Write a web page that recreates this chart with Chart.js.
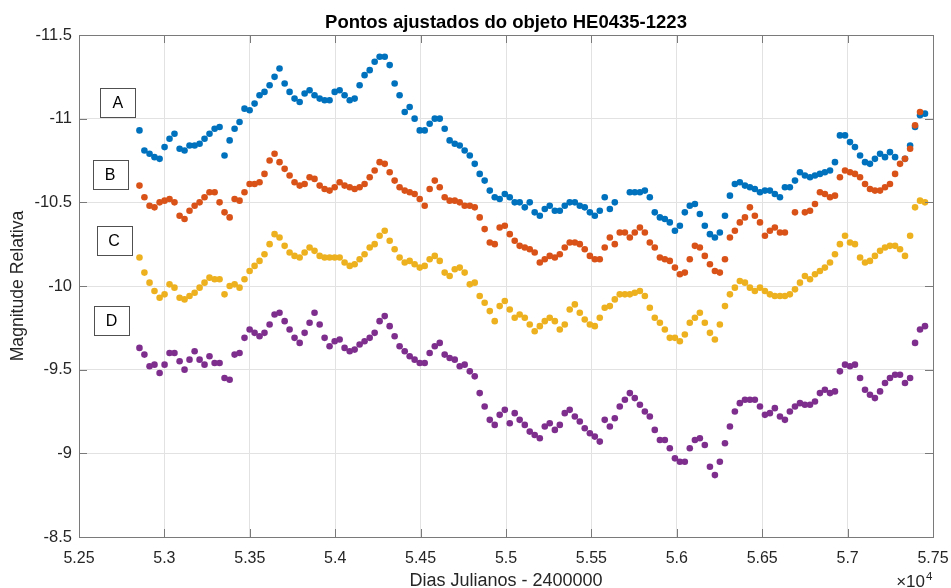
<!DOCTYPE html>
<html>
<head>
<meta charset="utf-8">
<script src="https://cdn.jsdelivr.net/npm/chart.js@4.4.1/dist/chart.umd.min.js"></script>
<style>
  html, body { margin: 0; padding: 0; background: #ffffff; }
  #caixa { width: 951px; height: 588px; }
</style>
</head>
<body>
<div id="caixa"><canvas id="grafico" width="951" height="588"></canvas></div>
<script>
// Dias julianos (JD - 2400000) das observações
const dias = [
  52854, 52883, 52913, 52942, 52972, 53001, 53030, 53059, 53089, 53118,
  53147, 53177, 53206, 53235, 53264, 53294, 53323, 53352, 53382, 53411,
  53440, 53469, 53499, 53528, 53557, 53586, 53616, 53645, 53674, 53704,
  53733, 53762, 53792, 53821, 53850, 53879, 53909, 53938, 53967, 53997,
  54026, 54055, 54085, 54114, 54143, 54172, 54202, 54231, 54260, 54290,
  54319, 54348, 54377, 54407, 54436, 54465, 54495, 54524, 54553, 54583,
  54612, 54641, 54670, 54700, 54729, 54758, 54788, 54817, 54846, 54875,
  54905, 54934, 54963, 54993, 55022, 55051, 55080, 55110, 55139, 55168,
  55198, 55227, 55256, 55286, 55315, 55344, 55373, 55403, 55432, 55461,
  55491, 55520, 55549, 55578, 55608, 55637, 55666, 55696, 55725, 55754,
  55784, 55813, 55842, 55871, 55901, 55930, 55959, 55989, 56018, 56047,
  56076, 56106, 56135, 56164, 56194, 56223, 56252, 56282, 56311, 56340,
  56369, 56399, 56428, 56457, 56487, 56516, 56545, 56574, 56604, 56633,
  56662, 56692, 56721, 56750, 56780, 56809, 56838, 56867, 56897, 56926,
  56955, 56985, 57014, 57043, 57073, 57102, 57131, 57160, 57190, 57219,
  57248, 57278, 57307, 57336, 57366, 57395, 57424, 57453
];

// Magnitudes relativas de cada imagem (null = sem observação)
const magA = [
  -10.93, -10.81, -10.79, -10.77, -10.76, -10.83, -10.88, -10.91, -10.82, -10.81,
  -10.84, -10.84, -10.85, -10.88, -10.91, -10.94, -10.95, -10.78, -10.87, -10.94,
  -10.98, -11.06, -11.05, -11.09, -11.14, -11.16, -11.20, -11.25, -11.30, -11.21,
  -11.16, -11.12, -11.10, -11.15, -11.17, -11.14, -11.12, -11.11, -11.11, -11.16,
  -11.17, -11.14, -11.11, -11.12, -11.20, -11.26, -11.29, -11.34, -11.37, -11.37,
  -11.32, -11.21, -11.14, -11.04, -11.07, -11.00, -10.93, -10.93, -10.97, -11.00,
  -11.00, -10.94, -10.87, -10.85, -10.84, -10.81, -10.78, -10.73, -10.67, -10.63,
  -10.57, -10.53, -10.52, -10.55, -10.53, -10.50, -10.50, -10.47, -10.50, -10.44,
  -10.42, -10.46, -10.48, -10.45, -10.45, -10.48, -10.50, -10.50, -10.48, -10.47,
  -10.44, -10.42, -10.45, -10.53, -10.46, -10.50, null, null, -10.56, -10.56,
  -10.56, -10.57, -10.53, -10.44, -10.41, -10.40, -10.38, -10.33, -10.36, -10.44,
  -10.48, -10.49, -10.43, -10.36, -10.31, -10.29, -10.32, -10.42, -10.54, -10.61,
  -10.62, -10.60, -10.59, -10.58, -10.56, -10.57, -10.57, -10.55, -10.53, -10.59,
  -10.59, -10.63, -10.68, -10.66, -10.65, -10.66, -10.67, -10.68, -10.69, -10.74,
  -10.90, -10.90, -10.86, -10.83, -10.78, -10.74, -10.73, -10.76, -10.79, -10.77,
  -10.80, -10.77, null, -10.76, -10.84, -10.95, -11.02, -11.03
];
const magB = [
  -10.60, -10.53, -10.48, -10.47, -10.50, -10.51, -10.52, -10.50, -10.42, -10.40,
  -10.45, -10.48, -10.50, -10.53, -10.56, -10.56, -10.50, -10.44, -10.41, -10.52,
  -10.51, -10.56, -10.61, -10.61, -10.62, -10.67, -10.75, -10.79, -10.74, -10.70,
  -10.66, -10.62, -10.60, -10.61, -10.65, -10.64, -10.60, -10.58, -10.57, -10.59,
  -10.62, -10.60, -10.59, -10.58, -10.59, -10.61, -10.65, -10.69, -10.74, -10.73,
  -10.68, -10.63, -10.59, -10.57, -10.56, -10.55, -10.52, -10.48, -10.58, -10.63,
  -10.59, -10.53, -10.51, -10.51, -10.50, -10.48, -10.48, -10.47, -10.41, -10.34,
  -10.26, -10.25, -10.35, -10.36, -10.31, -10.27, -10.24, -10.23, -10.22, -10.20,
  -10.14, -10.16, -10.18, -10.17, -10.19, -10.23, -10.26, -10.26, -10.25, -10.22,
  -10.18, -10.16, -10.16, -10.23, -10.29, -10.25, -10.32, -10.32, -10.29, -10.32,
  -10.35, -10.32, -10.26, -10.23, -10.17, -10.16, -10.15, -10.11, -10.07, -10.08,
  -10.16, -10.24, -10.23, -10.18, -10.13, -10.09, -10.08, -10.16, -10.29, -10.33,
  -10.38, -10.41, -10.47, -10.42, -10.38, -10.30, -10.33, -10.35, -10.32, -10.32,
  null, -10.44, null, -10.44, -10.45, -10.49, -10.56, -10.55, -10.53, -10.54,
  -10.65, -10.69, -10.68, -10.67, -10.65, -10.61, -10.58, -10.57, -10.57, -10.59,
  -10.61, -10.67, -10.73, -10.76, -10.82, -10.96, -11.04, null
];
const magC = [
  -10.17, -10.08, -10.02, -9.97, -9.93, -9.95, -10.01, -9.99, -9.93, -9.92,
  -9.94, -9.96, -9.99, -10.02, -10.05, -10.04, -10.04, -9.95, -10.00, -10.01,
  -9.99, -10.04, -10.09, -10.12, -10.15, -10.19, -10.25, -10.31, -10.29, -10.24,
  -10.20, -10.18, -10.17, -10.20, -10.23, -10.21, -10.18, -10.17, -10.17, -10.17,
  -10.17, -10.14, -10.12, -10.13, -10.16, -10.19, -10.23, -10.25, -10.30, -10.33,
  -10.27, -10.22, -10.17, -10.14, -10.15, -10.13, -10.11, -10.12, -10.16, -10.18,
  -10.15, -10.08, -10.06, -10.10, -10.11, -10.08, -10.01, -10.02, -9.94, -9.90,
  -9.85, -9.79, -9.88, -9.91, -9.86, -9.81, -9.83, -9.81, -9.77, -9.73,
  -9.76, -9.79, -9.81, -9.79, -9.74, -9.77, -9.86, -9.89, -9.84, -9.80,
  -9.77, -9.76, -9.81, -9.87, -9.88, -9.92, -9.95, -9.95, -9.95, -9.96,
  -9.97, -9.94, -9.87, -9.81, -9.78, -9.74, -9.69, -9.69, -9.67, -9.71,
  -9.78, -9.81, -9.84, -9.78, -9.72, -9.68, -9.77, -9.88, -9.95, -9.99,
  -10.03, -10.02, -9.99, -9.97, -9.99, -9.97, -9.95, -9.94, -9.94, -9.94,
  -9.95, -9.98, -10.02, -10.06, -10.04, -10.07, -10.09, -10.11, -10.14, -10.19,
  -10.25, -10.30, -10.26, -10.25, -10.17, -10.14, -10.15, -10.18, -10.21, -10.23,
  -10.24, -10.24, -10.22, -10.18, -10.30, -10.47, -10.51, -10.50
];
const magD = [
  -9.63, -9.59, -9.52, -9.53, -9.48, -9.53, -9.60, -9.60, -9.55, -9.50,
  -9.56, -9.61, -9.56, -9.53, -9.58, -9.54, -9.54, -9.45, -9.44, -9.59,
  -9.60, -9.69, -9.74, -9.72, -9.70, -9.72, -9.77, -9.83, -9.84, -9.79,
  -9.74, -9.69, -9.66, -9.72, -9.78, -9.84, -9.77, -9.69, -9.64, -9.67,
  -9.68, -9.63, -9.61, -9.62, -9.65, -9.67, -9.69, -9.72, -9.79, -9.82,
  -9.76, -9.70, -9.64, -9.61, -9.58, -9.56, -9.54, -9.54, -9.60, -9.64,
  -9.66, -9.59, -9.57, -9.56, -9.52, -9.53, -9.49, -9.46, -9.36, -9.28,
  -9.20, -9.17, -9.23, -9.26, -9.18, -9.24, -9.20, -9.17, -9.13, -9.11,
  -9.09, -9.16, -9.18, -9.14, -9.17, -9.24, -9.26, -9.22, -9.19, -9.15,
  -9.12, -9.10, -9.07, -9.20, -9.16, -9.21, -9.28, -9.32, -9.36, -9.33,
  -9.29, -9.25, -9.22, -9.14, -9.08, -9.08, -9.03, -8.97, -8.95, -8.95,
  -9.03, -9.08, -9.09, -9.05, -8.92, -8.87, -8.95, -9.06, -9.16, -9.25,
  -9.30, -9.32, -9.32, -9.32, -9.28, -9.23, -9.24, -9.27, -9.22, -9.20,
  -9.25, -9.28, -9.30, -9.29, -9.29, -9.31, -9.36, -9.38, -9.36, -9.37,
  -9.49, -9.53, -9.52, -9.53, -9.45, -9.38, -9.35, -9.33, -9.37, -9.42,
  -9.45, -9.47, -9.47, -9.42, -9.45, -9.66, -9.74, -9.76
];

// Marcas dos eixos
const xTicks = [52500, 53000, 53500, 54000, 54500, 55000, 55500, 56000, 56500, 57000, 57500];
const xTickLabels = ['5.25', '5.3', '5.35', '5.4', '5.45', '5.5', '5.55', '5.6', '5.65', '5.7', '5.75'];
const yTicks = [-11.5, -11, -10.5, -10, -9.5, -9, -8.5];
const yTickLabels = ['-11.5', '-11', '-10.5', '-10', '-9.5', '-9', '-8.5'];
const nomes = ['A', 'B', 'C', 'D'];

const fonte = '"Liberation Sans", Arial, Helvetica, sans-serif';
const corTexto = '#262626';
const corEixo = '#7a7a7a';

// junta datas e magnitudes em pontos {x, y}
function pontos(mags) {
    const out = [];
    dias.forEach((d, i) => {
        if (mags[i] !== null) out.push({ x: d, y: mags[i] });
    });
    return out;
}

function rotulo(lista, labels, v) {
    const i = lista.findIndex(t => Math.abs(t - v) < 1e-6);
    return i >= 0 ? labels[i] : '';
}

// Caixa do gráfico, marcas internas, títulos e etiquetas A-D
const enfeites = {
    id: 'enfeites',
    afterDatasetsDraw(chart) {
        const { ctx, chartArea: a, scales: { x, y } } = chart;
        ctx.save();
        ctx.strokeStyle = corEixo;
        ctx.lineWidth = 1;
        ctx.beginPath();
        xTicks.forEach(t => {
            const px = Math.round(x.getPixelForValue(t)) + 0.5;
            ctx.moveTo(px, a.bottom); ctx.lineTo(px, a.bottom - 8);
            ctx.moveTo(px, a.top); ctx.lineTo(px, a.top + 8);
        });
        yTicks.forEach(t => {
            const py = Math.round(y.getPixelForValue(t)) + 0.5;
            ctx.moveTo(a.left, py); ctx.lineTo(a.left + 8, py);
            ctx.moveTo(a.right, py); ctx.lineTo(a.right - 8, py);
        });
        ctx.stroke();
        ctx.strokeRect(Math.round(a.left) + 0.5, Math.round(a.top) + 0.5,
                       Math.round(a.right - a.left), Math.round(a.bottom - a.top));
        ctx.restore();
    },
    afterDraw(chart) {
        const { ctx, chartArea: a, scales: { x, y } } = chart;
        const meio = (a.left + a.right) / 2;
        ctx.save();

        // título
        ctx.fillStyle = '#000000';
        ctx.font = 'bold 18.5px ' + fonte;
        ctx.textAlign = 'center';
        ctx.textBaseline = 'alphabetic';
        ctx.fillText('Pontos ajustados do objeto HE0435-1223', meio, 28);

        // eixo x
        ctx.fillStyle = corTexto;
        ctx.font = '18px ' + fonte;
        ctx.fillText('Dias Julianos - 2400000', meio, 586);

        // expoente
        ctx.textAlign = 'right';
        ctx.font = '17px ' + fonte;
        ctx.fillText('\u00d710', a.right - 8, 587);
        ctx.textAlign = 'left';
        ctx.font = '11.5px ' + fonte;
        ctx.fillText('4', a.right - 7, 580);

        // eixo y
        ctx.save();
        ctx.translate(18, (a.top + a.bottom) / 2);
        ctx.rotate(-Math.PI / 2);
        ctx.textAlign = 'center';
        ctx.textBaseline = 'middle';
        ctx.font = '17.6px ' + fonte;
        ctx.fillText('Magnitude Relativa', 0, 0);
        ctx.restore();

        // etiquetas das imagens
        const caixas = [
            { x: 52728, y: -11.097 },
            { x: 52682, y: -10.666 },
            { x: 52705, y: -10.269 },
            { x: 52690, y: -9.795 }
        ];
        ctx.font = '16px ' + fonte;
        ctx.textAlign = 'center';
        ctx.textBaseline = 'middle';
        caixas.forEach((c, i) => {
            const cx = x.getPixelForValue(c.x);
            const cy = y.getPixelForValue(c.y);
            ctx.fillStyle = '#ffffff';
            ctx.fillRect(Math.round(cx - 17.5), Math.round(cy - 14.5), 35, 29);
            ctx.strokeStyle = '#505050';
            ctx.lineWidth = 1;
            ctx.strokeRect(Math.round(cx - 17.5) + 0.5, Math.round(cy - 14.5) + 0.5, 35, 29);
            ctx.fillStyle = '#000000';
            ctx.fillText(nomes[i], cx, cy + 1);
        });
        ctx.restore();
    }
};

const cores = ['#0072BD', '#D95319', '#EDB120', '#7E2F8E'];
const series = [magA, magB, magC, magD];

const config = {
    type: 'scatter',
    data: {
        datasets: series.map((m, i) => ({
            label: nomes[i],
            data: pontos(m),
            backgroundColor: cores[i],
            borderColor: cores[i],
            pointRadius: 3.3,
            pointBorderWidth: 0,
            pointHoverRadius: 3.3,
            order: 4 - i
        }))
    },
    options: {
        responsive: false,
        animation: false,
        devicePixelRatio: 1,
        layout: { padding: { top: 35, right: 18, left: 0, bottom: 0 } },
        plugins: {
            legend: { display: false },
            title: { display: false },
            tooltip: { enabled: false }
        },
        scales: {
            x: {
                type: 'linear',
                min: 52500,
                max: 57500,
                afterFit: s => { s.height = 51; s.paddingLeft = 0; s.paddingRight = 0; },
                afterBuildTicks: s => { s.ticks = xTicks.map(v => ({ value: v })); },
                ticks: {
                    padding: 12,
                    color: corTexto,
                    font: { family: fonte, size: 16 },
                    maxRotation: 0,
                    autoSkip: false,
                    callback: v => rotulo(xTicks, xTickLabels, v)
                },
                grid: { color: '#e2e2e2', drawTicks: false },
                border: { display: false }
            },
            y: {
                type: 'linear',
                reverse: true,
                min: -11.5,
                max: -8.5,
                afterFit: s => { s.width = 79; s.paddingTop = 0; s.paddingBottom = 0; },
                afterBuildTicks: s => { s.ticks = yTicks.map(v => ({ value: v })); },
                ticks: {
                    padding: 7,
                    color: corTexto,
                    font: { family: fonte, size: 16.5 },
                    autoSkip: false,
                    callback: v => rotulo(yTicks, yTickLabels, v)
                },
                grid: { color: '#e2e2e2', drawTicks: false },
                border: { display: false }
            }
        }
    },
    plugins: [enfeites]
};

new Chart(document.getElementById('grafico').getContext('2d'), config);
</script>
</body>
</html>
